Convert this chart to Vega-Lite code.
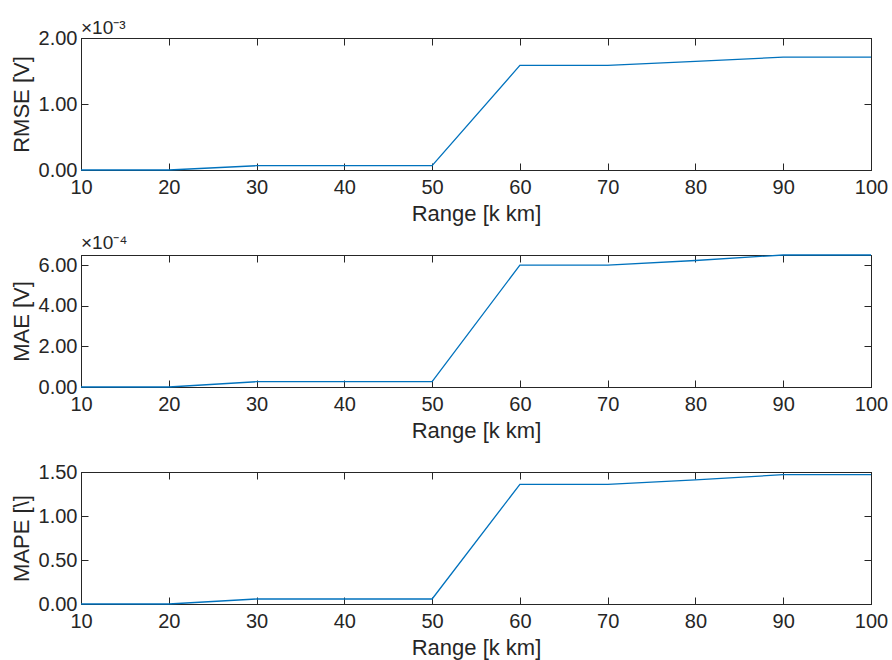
{
  "$schema": "https://vega.github.io/schema/vega-lite/v6.json",
  "padding": {"left": 9, "top": 18, "right": 4, "bottom": 4},
  "background": "white",
  "datasets": {
    "metrics": [
      {"range": 10, "rmse": 0, "mae": 0, "mape": 0},
      {"range": 20, "rmse": 0, "mae": 0, "mape": 0},
      {"range": 30, "rmse": 0.000065, "mae": 0.000026, "mape": 0.057},
      {"range": 40, "rmse": 0.000065, "mae": 0.000026, "mape": 0.057},
      {"range": 50, "rmse": 0.000065, "mae": 0.000026, "mape": 0.057},
      {"range": 60, "rmse": 0.001585, "mae": 0.0006, "mape": 1.36},
      {"range": 70, "rmse": 0.001585, "mae": 0.0006, "mape": 1.36},
      {"range": 80, "rmse": 0.001645, "mae": 0.000623, "mape": 1.41},
      {"range": 90, "rmse": 0.00171, "mae": 0.00065, "mape": 1.47},
      {"range": 100, "rmse": 0.00171, "mae": 0.00065, "mape": 1.47}
    ]
  },
  "data": {"name": "metrics"},
  "spacing": 85,
  "bounds": "flush",
  "vconcat": [
    {
      "width": 790, "height": 132,
      "title": {"text": "×10⁻³", "anchor": "start", "frame": "group", "offset": -10},
      "layer": [
        {
          "mark": {"type": "line", "color": "#0072BD", "strokeWidth": 1.3},
          "encoding": {
            "x": {"field": "range", "type": "quantitative", "scale": {"domain": [10, 100], "nice": false, "zero": false},
                  "axis": {"orient": "bottom", "values": [10,20,30,40,50,60,70,80,90,100], "title": "Range [k km]"}},
            "y": {"field": "rmse", "type": "quantitative", "scale": {"domain": [0, 0.002], "nice": false},
                  "axis": {"orient": "left", "values": [0, 0.001, 0.002], "labelExpr": "format(datum.value*1000, '.2f')", "title": "RMSE [V]"}}
          }
        },
        {
          "mark": {"type": "line", "strokeOpacity": 0},
          "encoding": {
            "x": {"field": "range", "type": "quantitative", "scale": {"domain": [10, 100], "nice": false, "zero": false},
                  "axis": {"orient": "top", "values": [10,20,30,40,50,60,70,80,90,100], "labels": false, "title": null}},
            "y": {"field": "rmse", "type": "quantitative", "scale": {"domain": [0, 0.002], "nice": false},
                  "axis": {"orient": "right", "values": [0, 0.001, 0.002], "labels": false, "title": null}}
          }
        }
      ],
      "resolve": {"axis": {"x": "independent", "y": "independent"}}
    },
    {
      "width": 790, "height": 132,
      "title": {"text": "×10⁻⁴", "anchor": "start", "frame": "group", "offset": -1},
      "layer": [
        {
          "mark": {"type": "line", "color": "#0072BD", "strokeWidth": 1.3},
          "encoding": {
            "x": {"field": "range", "type": "quantitative", "scale": {"domain": [10, 100], "nice": false, "zero": false},
                  "axis": {"orient": "bottom", "values": [10,20,30,40,50,60,70,80,90,100], "title": "Range [k km]"}},
            "y": {"field": "mae", "type": "quantitative", "scale": {"domain": [0, 0.00065], "nice": false},
                  "axis": {"orient": "left", "values": [0, 0.0002, 0.0004, 0.0006], "labelExpr": "format(datum.value*10000, '.2f')", "title": "MAE [V]"}}
          }
        },
        {
          "mark": {"type": "line", "strokeOpacity": 0},
          "encoding": {
            "x": {"field": "range", "type": "quantitative", "scale": {"domain": [10, 100], "nice": false, "zero": false},
                  "axis": {"orient": "top", "values": [10,20,30,40,50,60,70,80,90,100], "labels": false, "title": null}},
            "y": {"field": "mae", "type": "quantitative", "scale": {"domain": [0, 0.00065], "nice": false},
                  "axis": {"orient": "right", "values": [0, 0.0002, 0.0004, 0.0006], "labels": false, "title": null}}
          }
        }
      ],
      "resolve": {"axis": {"x": "independent", "y": "independent"}}
    },
    {
      "width": 790, "height": 132,
      "layer": [
        {
          "mark": {"type": "line", "color": "#0072BD", "strokeWidth": 1.3},
          "encoding": {
            "x": {"field": "range", "type": "quantitative", "scale": {"domain": [10, 100], "nice": false, "zero": false},
                  "axis": {"orient": "bottom", "values": [10,20,30,40,50,60,70,80,90,100], "title": "Range [k km]"}},
            "y": {"field": "mape", "type": "quantitative", "scale": {"domain": [0, 1.5], "nice": false},
                  "axis": {"orient": "left", "values": [0, 0.5, 1, 1.5], "format": ".2f", "title": "MAPE [\\]"}}
          }
        },
        {
          "mark": {"type": "line", "strokeOpacity": 0},
          "encoding": {
            "x": {"field": "range", "type": "quantitative", "scale": {"domain": [10, 100], "nice": false, "zero": false},
                  "axis": {"orient": "top", "values": [10,20,30,40,50,60,70,80,90,100], "labels": false, "title": null}},
            "y": {"field": "mape", "type": "quantitative", "scale": {"domain": [0, 1.5], "nice": false},
                  "axis": {"orient": "right", "values": [0, 0.5, 1, 1.5], "labels": false, "title": null}}
          }
        }
      ],
      "resolve": {"axis": {"x": "independent", "y": "independent"}}
    }
  ],
  "config": {
    "font": "Liberation Sans",
    "view": {"stroke": "#262626", "strokeWidth": 1},
    "title": {"font": "Liberation Sans", "fontSize": 19, "fontWeight": "normal", "color": "#262626"},
    "axis": {
      "grid": false, "ticks": true,
      "labelFont": "Liberation Sans", "labelFontSize": 20, "labelColor": "#262626",
      "titleFont": "Liberation Sans", "titleFontSize": 22, "titleFontWeight": "normal", "titleColor": "#262626",
      "domainColor": "#262626", "tickColor": "#262626", "tickSize": -7, "tickWidth": 1, "tickOpacity": 1,
      "labelFlush": false, "labelOverlap": false
    },
    "axisX": {"labelPadding": 14, "titlePadding": 6},
    "axisY": {"labelPadding": 11, "titlePadding": 5}
  }
}
